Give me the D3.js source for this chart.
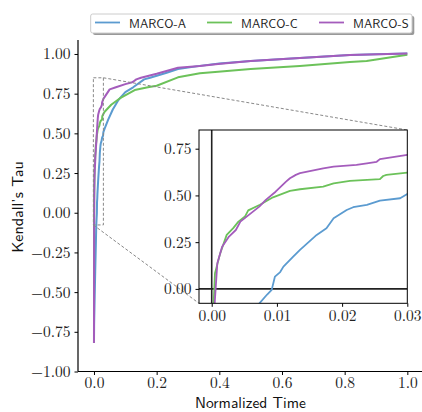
<!DOCTYPE html>
<html><head><meta charset="utf-8">
<script src="https://cdn.jsdelivr.net/npm/d3@7"></script>
<style>
body{margin:0;background:#fff;}
svg{display:block;}
</style></head>
<body><svg id="c" width="422" height="412"></svg>
<script>
// ---------- data ----------
const seriesNames = ["MARCO-A","MARCO-C","MARCO-S"];
const seriesColors = ["#5b9bd0","#6cc25a","#a45cbc"];

const tA = [0,0.0005,0.002,0.004,0.006,0.00725,0.0085,0.0092,0.0097,0.0105,0.011,0.0125,0.01354,0.0161,0.0176,0.0187,0.0207,0.0217,0.0238,0.0258,0.0289,0.03,0.034,0.045,0.06,0.078,0.1,0.125,0.16,0.179,0.232,0.268,0.338,0.4,0.5,0.657,0.817,0.9,1.0];
const vA = [-0.82,-0.7,-0.55,-0.37,-0.2,-0.08,-0.03,-0.005,0.066,0.09,0.119,0.173,0.209,0.289,0.324,0.378,0.422,0.437,0.449,0.472,0.485,0.508,0.53,0.585,0.65,0.71,0.76,0.79,0.84,0.85,0.882,0.905,0.925,0.94,0.955,0.975,0.994,0.998,1.003];

const tC = [0,0.0003,0.0005,0.0013,0.0023,0.0033,0.0041,0.0051,0.0056,0.0074,0.0094,0.012,0.01354,0.0171,0.0187,0.0212,0.0258,0.0263,0.0268,0.03,0.034,0.055,0.082,0.13,0.172,0.2,0.268,0.338,0.396,0.5,0.657,0.817,0.87,1.0];
const vC = [-0.82,-0.075,0.084,0.19,0.289,0.325,0.36,0.387,0.42,0.45,0.49,0.524,0.533,0.547,0.565,0.578,0.587,0.604,0.61,0.622,0.636,0.68,0.72,0.773,0.79,0.80,0.853,0.878,0.888,0.905,0.925,0.95,0.956,0.995];

const tS = [0,0.00046,0.00086,0.0016,0.00265,0.0037,0.0044,0.0057,0.0073,0.0083,0.0098,0.0114,0.012,0.0129,0.01354,0.0171,0.0187,0.0222,0.0238,0.0253,0.0258,0.03,0.05,0.07,0.1,0.119,0.125,0.135,0.15,0.2,0.268,0.338,0.396,0.5,0.657,0.817,1.0];
const vS = [-0.82,-0.075,0.137,0.226,0.28,0.315,0.36,0.396,0.44,0.476,0.52,0.574,0.592,0.61,0.619,0.645,0.654,0.663,0.672,0.68,0.694,0.717,0.777,0.79,0.81,0.82,0.825,0.84,0.85,0.875,0.913,0.924,0.937,0.955,0.975,0.994,1.003];

const seriesT = [tA,tC,tS];
const seriesV = [vA,vC,vS];

const mainYTicks = [-1.0,-0.75,-0.5,-0.25,0,0.25,0.5,0.75,1.0];
const mainXTicks = [0,0.2,0.4,0.6,0.8,1.0];
const insetXTicks = [0,0.01,0.02,0.03];
const insetYTicks = [0,0.25,0.5,0.75];

// ---------- layout ----------
const SERIF = "Latin Modern Roman, Liberation Serif, serif";
const SANS = "Latin Modern Sans, Lato, DejaVu Sans, sans-serif";
const svg = d3.select("#c");
const x = d3.scaleLinear().domain([-0.051,1.05]).range([78,423]);
const y = d3.scaleLinear().domain([-1.0,1.088]).range([371.5,40]);

const xi = d3.scaleLinear().domain([-0.00195,0.03]).range([199,407.3]);
const yi = d3.scaleLinear().domain([-0.077,0.85]).range([303.3,130]);

function styleTicks(g){
  g.attr("font-family",SERIF).attr("font-size",15.5);
  g.selectAll(".tick text").attr("font-family",SERIF).attr("font-size",15.5).attr("fill","#222");
  g.selectAll(".tick line").attr("stroke","#000").attr("stroke-width",1);
}

// main lines
const gMain = svg.append("g");
gMain.append("defs").append("clipPath").attr("id","mclip")
  .append("rect").attr("x",78).attr("y",0).attr("width",345).attr("height",372);
seriesNames.forEach((n,i)=>{
  const pts = seriesT[i].map((t,j)=>[t,seriesV[i][j]]);
  gMain.append("path").datum(pts)
    .attr("clip-path","url(#mclip)")
    .attr("fill","none").attr("stroke",seriesColors[i]).attr("stroke-width",2)
    .attr("stroke-linejoin","round")
    .attr("d",d3.line().x(d=>x(d[0])).y(d=>y(d[1])));
});

// indicate rectangle
const rx0 = x(-0.00195), rx1 = x(0.03), ry0 = y(0.85), ry1 = y(-0.077);
svg.append("rect").attr("x",rx0).attr("y",ry0).attr("width",rx1-rx0).attr("height",ry1-ry0)
  .attr("fill","none").attr("stroke","#888").attr("stroke-width",1).attr("stroke-dasharray","3,2");
// connectors
svg.append("line").attr("x1",rx1).attr("y1",ry0).attr("x2",xi.range()[1]).attr("y2",yi.range()[1])
  .attr("stroke","#888").attr("stroke-width",1).attr("stroke-dasharray","3,2");
svg.append("line").attr("x1",rx0).attr("y1",ry1).attr("x2",xi.range()[0]).attr("y2",yi.range()[0])
  .attr("stroke","#888").attr("stroke-width",1).attr("stroke-dasharray","3,2");

// main axes
const fmt2 = d=>(d<0?"\u2212":"")+Math.abs(d).toFixed(2);
const yAx = svg.append("g").attr("transform","translate(78,0)")
  .call(d3.axisLeft(y).tickValues(mainYTicks).tickFormat(fmt2).tickSize(3.5).tickPadding(4));
const xAx = svg.append("g").attr("transform","translate(0,371.5)")
  .call(d3.axisBottom(x).tickValues(mainXTicks).tickFormat(d=>d.toFixed(1)).tickSize(3.5).tickPadding(2));
[yAx,xAx].forEach(g=>{
  styleTicks(g);
  g.selectAll(".domain").attr("stroke","#000").attr("stroke-width",1.2);
});
yAx.select(".domain").attr("d","M0,371.5V40");
xAx.select(".domain").attr("d","M78,0H423");

// inset
const gi = svg.append("g");
gi.append("rect").attr("x",199).attr("y",130).attr("width",407.3-199).attr("height",303.3-130).attr("fill","#fff");
gi.append("defs").append("clipPath").attr("id","iclip")
  .append("rect").attr("x",199).attr("y",130).attr("width",407.3-199).attr("height",303.3-130);
const ic = gi.append("g").attr("clip-path","url(#iclip)");
ic.append("line").attr("x1",199).attr("x2",407.3).attr("y1",yi(0)).attr("y2",yi(0)).attr("stroke","#222").attr("stroke-width",1.6);
ic.append("line").attr("x1",xi(0)).attr("x2",xi(0)).attr("y1",130).attr("y2",303.3).attr("stroke","#222").attr("stroke-width",1.6);
seriesNames.forEach((n,i)=>{
  const pts = seriesT[i].map((t,j)=>[t,seriesV[i][j]]);
  ic.append("path").datum(pts)
    .attr("fill","none").attr("stroke",seriesColors[i]).attr("stroke-width",1.8)
    .attr("stroke-linejoin","round")
    .attr("d",d3.line().x(d=>xi(d[0])).y(d=>yi(d[1])));
});
gi.append("rect").attr("x",199).attr("y",130).attr("width",407.3-199).attr("height",303.3-130)
  .attr("fill","none").attr("stroke","#000").attr("stroke-width",1);
const yiAx = gi.append("g").attr("transform","translate(199,0)")
  .call(d3.axisLeft(yi).tickValues(insetYTicks).tickFormat(d=>d.toFixed(2)).tickSize(3.5).tickPadding(4));
const xiAx = gi.append("g").attr("transform","translate(0,303.3)")
  .call(d3.axisBottom(xi).tickValues(insetXTicks).tickFormat(d=>d.toFixed(2)).tickSize(3.5).tickPadding(3));
[yiAx,xiAx].forEach(g=>{
  g.select(".domain").remove();
  styleTicks(g);
});

// axis labels
svg.append("text").attr("x",250.5).attr("y",408).attr("text-anchor","middle")
  .attr("font-family",SANS).attr("font-size",15.5).attr("fill","#111")
  .text("Normalized Time");
svg.append("text").attr("transform","translate(22.5,207) rotate(-90)").attr("text-anchor","middle")
  .attr("font-family",SANS).attr("font-size",16).attr("fill","#111")
  .text("Kendall\u2019s Tau");

// legend
const lg = svg.append("g");
lg.append("rect").attr("x",93).attr("y",16).attr("width",321.3).attr("height",19).attr("rx",2)
  .attr("fill","#999");
lg.append("rect").attr("x",90.7).attr("y",14).attr("width",321.3).attr("height",19).attr("rx",2)
  .attr("fill","#fff").attr("stroke","#ccc").attr("stroke-width",1);
const legX = [95,207,319];
seriesNames.forEach((n,i)=>{
  lg.append("line").attr("x1",legX[i]).attr("x2",legX[i]+25).attr("y1",22.5).attr("y2",22.5)
    .attr("stroke",seriesColors[i]).attr("stroke-width",1.8);
  lg.append("text").attr("x",legX[i]+34).attr("y",27.5).attr("font-family",SANS)
    .attr("font-size",12.5).attr("fill","#222").text(n);
});
</script></body></html>
